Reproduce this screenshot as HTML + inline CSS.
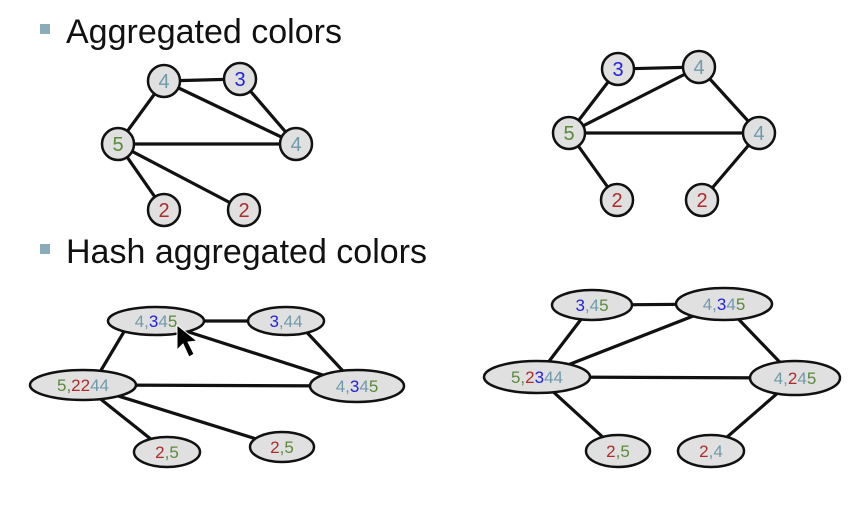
<!DOCTYPE html>
<html><head><style>body{margin:0;background:#fff}svg{display:block}</style></head><body>
<svg width="850" height="506" xmlns="http://www.w3.org/2000/svg" font-family="Liberation Sans, sans-serif">
<rect width="850" height="506" fill="#fff"/>
<rect x="40" y="24" width="10" height="10" fill="#8aacb8"/>
<text x="66" y="43" font-size="34" fill="#111">Aggregated colors</text>
<rect x="40" y="244" width="10" height="10" fill="#8aacb8"/>
<text x="66" y="263" font-size="34" fill="#111">Hash aggregated colors</text>
<g stroke="#111" stroke-width="3.2" fill="none">
<line x1="164" y1="81" x2="240" y2="79"/><line x1="240" y1="79" x2="296" y2="144"/>
<line x1="164" y1="81" x2="118" y2="144"/><line x1="118" y1="144" x2="296" y2="144"/>
<line x1="164" y1="81" x2="296" y2="144"/><line x1="118" y1="144" x2="164" y2="210"/>
<line x1="118" y1="144" x2="244" y2="210"/>
<line x1="618" y1="69" x2="699" y2="67"/><line x1="699" y1="67" x2="759" y2="133"/>
<line x1="618" y1="69" x2="569" y2="133"/><line x1="569" y1="133" x2="699" y2="67"/>
<line x1="569" y1="133" x2="759" y2="133"/><line x1="569" y1="133" x2="617" y2="200"/>
<line x1="759" y1="133" x2="702" y2="200"/>
<line x1="156" y1="321" x2="286" y2="321"/><line x1="100" y1="372" x2="125" y2="330"/>
<line x1="170" y1="326" x2="357" y2="386"/><line x1="300" y1="325" x2="357" y2="386"/>
<line x1="83" y1="385" x2="357" y2="386"/><line x1="83" y1="385" x2="167" y2="452"/>
<line x1="83" y1="385" x2="282" y2="447"/>
<line x1="592" y1="305" x2="724" y2="304"/><line x1="724" y1="304" x2="795" y2="378"/>
<line x1="592" y1="305" x2="537" y2="377"/><line x1="537" y1="377" x2="724" y2="304"/>
<line x1="537" y1="377" x2="795" y2="378"/><line x1="537" y1="377" x2="618" y2="451"/>
<line x1="795" y1="378" x2="711" y2="451"/>
</g>
<g fill="#e0e0e0" stroke="#111" stroke-width="2.5">
<circle cx="164" cy="81" r="16"/><circle cx="240" cy="79" r="16"/><circle cx="296" cy="144" r="16"/>
<circle cx="118" cy="144" r="16"/><circle cx="164" cy="210" r="16"/><circle cx="244" cy="210" r="16"/>
<circle cx="618" cy="69" r="16"/><circle cx="699" cy="67" r="16"/><circle cx="759" cy="133" r="16"/>
<circle cx="569" cy="133" r="16"/><circle cx="617" cy="200" r="16"/><circle cx="702" cy="200" r="16"/>
<ellipse cx="156" cy="321" rx="48" ry="14"/><ellipse cx="286" cy="321" rx="38" ry="14"/>
<ellipse cx="83" cy="385" rx="53" ry="15"/><ellipse cx="357" cy="386" rx="47" ry="16"/>
<ellipse cx="167" cy="452" rx="33" ry="15"/><ellipse cx="282" cy="447" rx="32" ry="15"/>
<ellipse cx="592" cy="305" rx="40" ry="15"/><ellipse cx="724" cy="304" rx="48" ry="16"/>
<ellipse cx="537" cy="377" rx="53" ry="16"/><ellipse cx="795" cy="378" rx="45" ry="17"/>
<ellipse cx="618" cy="451" rx="32" ry="16"/><ellipse cx="711" cy="451" rx="33" ry="16"/>
</g>
<g font-size="20" text-anchor="middle">
<text x="164" y="88" fill="#6f9aab">4</text><text x="240" y="86" fill="#2222dd">3</text>
<text x="296" y="151" fill="#6f9aab">4</text><text x="118" y="151" fill="#5a8a3a">5</text>
<text x="164" y="217" fill="#b02a2a">2</text><text x="244" y="217" fill="#b02a2a">2</text>
<text x="618" y="76" fill="#2222dd">3</text><text x="699" y="74" fill="#6f9aab">4</text>
<text x="759" y="140" fill="#6f9aab">4</text><text x="569" y="140" fill="#5a8a3a">5</text>
<text x="617" y="207" fill="#b02a2a">2</text><text x="702" y="207" fill="#b02a2a">2</text>
</g>
<g font-size="17" text-anchor="middle">
<text x="156" y="327"><tspan fill="#6f9aab">4,</tspan><tspan fill="#2222dd">3</tspan><tspan fill="#6f9aab">4</tspan><tspan fill="#5a8a3a">5</tspan></text>
<text x="286" y="327"><tspan fill="#2222dd">3</tspan><tspan fill="#6f9aab">,44</tspan></text>
<text x="83" y="391"><tspan fill="#5a8a3a">5,</tspan><tspan fill="#b02a2a">22</tspan><tspan fill="#6f9aab">44</tspan></text>
<text x="357" y="392"><tspan fill="#6f9aab">4,</tspan><tspan fill="#2222dd">3</tspan><tspan fill="#6f9aab">4</tspan><tspan fill="#5a8a3a">5</tspan></text>
<text x="167" y="458"><tspan fill="#b02a2a">2</tspan><tspan fill="#5a8a3a">,5</tspan></text>
<text x="282" y="453"><tspan fill="#b02a2a">2</tspan><tspan fill="#5a8a3a">,5</tspan></text>
<text x="592" y="311"><tspan fill="#2222dd">3</tspan><tspan fill="#6f9aab">,4</tspan><tspan fill="#5a8a3a">5</tspan></text>
<text x="724" y="310"><tspan fill="#6f9aab">4,</tspan><tspan fill="#2222dd">3</tspan><tspan fill="#6f9aab">4</tspan><tspan fill="#5a8a3a">5</tspan></text>
<text x="537" y="383"><tspan fill="#5a8a3a">5,</tspan><tspan fill="#b02a2a">2</tspan><tspan fill="#2222dd">3</tspan><tspan fill="#6f9aab">44</tspan></text>
<text x="795" y="384"><tspan fill="#6f9aab">4,</tspan><tspan fill="#b02a2a">2</tspan><tspan fill="#6f9aab">4</tspan><tspan fill="#5a8a3a">5</tspan></text>
<text x="618" y="457"><tspan fill="#b02a2a">2</tspan><tspan fill="#5a8a3a">,5</tspan></text>
<text x="711" y="457"><tspan fill="#b02a2a">2</tspan><tspan fill="#6f9aab">,4</tspan></text>
</g>
<path d="M177,325 L177,350 L183,344 L189,357 L194,354 L188,342 L197,341 Z" fill="#000" stroke="#fff" stroke-width="1"/>
</svg>
</body></html>
